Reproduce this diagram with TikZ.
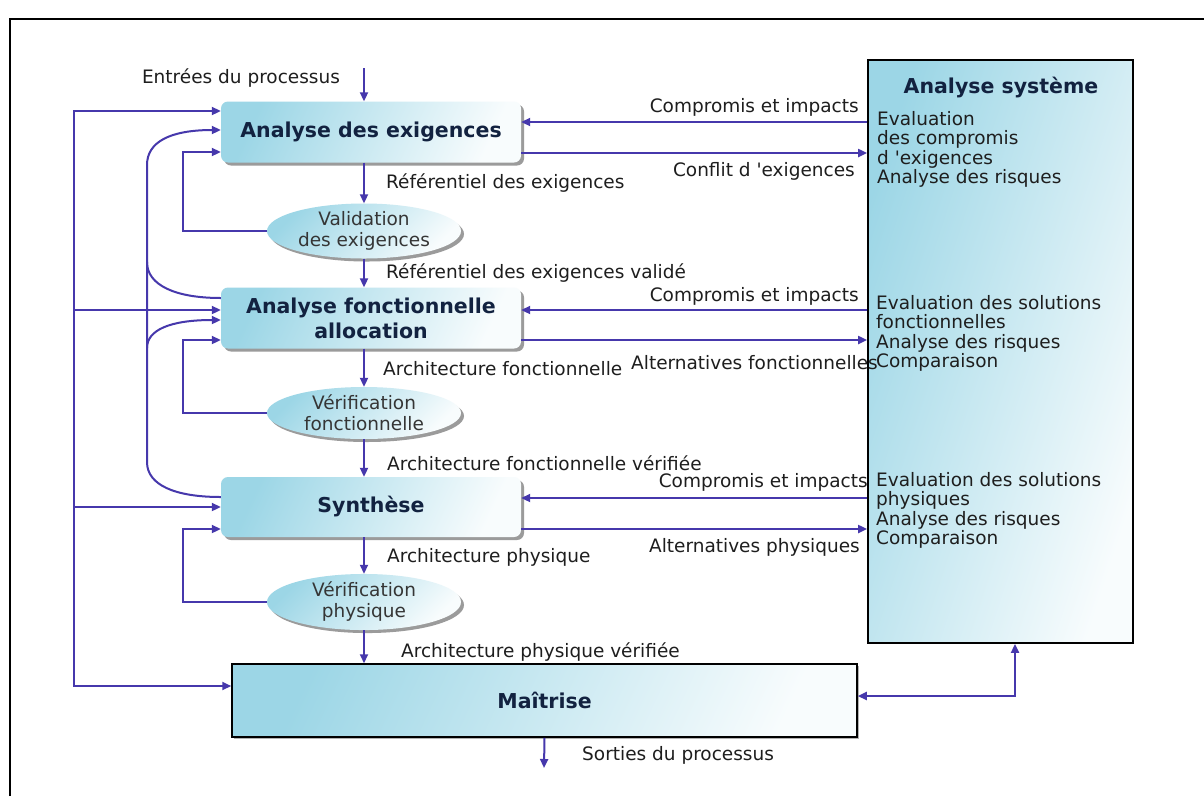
\documentclass[tikz,border=0pt]{standalone}
\usepackage{fontspec}
\setmainfont{DejaVu Sans}[Ligatures=TeXOff]
\usetikzlibrary{arrows.meta,shapes.geometric,shadows}

\definecolor{flow}{RGB}{70,56,172}
\definecolor{bxblue}{RGB}{156,214,230}
\definecolor{bxpale}{RGB}{248,252,253}
\definecolor{titlenavy}{RGB}{18,34,64}
\definecolor{txt}{RGB}{30,30,30}

\newcommand\ttlfont{\fontsize{20.5}{25}\selectfont\bfseries}
\newcommand\lblfont{\fontsize{18.5}{20}\selectfont}
\newcommand\itemfont{\fontsize{18.5}{19.5}\selectfont}

\tikzset{
  flowline/.style={draw=flow, line width=2pt},
  arr/.style={flowline, -{Triangle[length=9pt,width=8pt]}},
  darr/.style={flowline, {Triangle[length=9pt,width=8pt]}-{Triangle[length=9pt,width=8pt]}},
  softshadow/.style={drop shadow={shadow xshift=3pt, shadow yshift=-3pt, opacity=0.6, fill=black!65}},
  procbox/.style={rectangle, rounded corners=7pt, top color=bxblue, bottom color=bxpale,
    shading angle=65, softshadow, minimum width=300pt, inner sep=0pt,
    font=\ttlfont, text=titlenavy, align=center},
  checkell/.style={ellipse, minimum width=194pt, minimum height=52pt, inner sep=0pt,
    top color=bxblue, bottom color=bxpale, shading angle=45, softshadow,
    font=\fontsize{18.5}{21}\selectfont, text=txt!90, align=center},
  mastbox/.style={rectangle, draw=black, line width=1.5pt, top color=bxblue, bottom color=bxpale,
    shading angle=65, drop shadow={shadow xshift=2pt, shadow yshift=-2pt, opacity=0.5, fill=black!60},
    minimum width=625pt, minimum height=73pt, inner sep=0pt, font=\ttlfont, text=titlenavy},
  sysbox/.style={rectangle, draw=black, line width=1.8pt, top color=bxblue, bottom color=bxpale,
    shading angle=72, minimum width=265pt, minimum height=583pt, inner sep=0pt},
  lbl/.style={font=\lblfont, text=txt, inner sep=0pt},
  sysitem/.style={font=\itemfont, text=txt, inner sep=0pt, align=left, anchor=north west},
}

\begin{document}
\begin{tikzpicture}[x=1pt, y=-1pt]
  % page and outer frame
  \fill[white] (0,0) rectangle (1204,796);
  \useasboundingbox (0,0) rectangle (1204,796);
  \draw[black, line width=1.8pt] (10,796) -- (10,19) -- (1204,19);

  % process steps
  \node[procbox, minimum height=61pt] (box1) at (371,132) {Analyse des exigences};
  \node[procbox, minimum height=61pt] (box2) at (371,318) {Analyse fonctionnelle\\allocation};
  \node[procbox, minimum height=60pt] (box3) at (371,507) {Synthèse};
  \node[mastbox] (mait) at (544.5,700.5) {Maîtrise};

  % verification steps
  \node[checkell] (ell1) at (364,231) {Validation\\des exigences};
  \node[checkell] (ell2) at (364,413) {Vérification\\fonctionnelle};
  \node[checkell] (ell3) at (364,602) {Vérification\\physique};

  % system analysis panel
  \node[sysbox] (sys) at (1000.5,351.5) {};
  \node[font=\ttlfont, text=titlenavy, inner sep=0pt] (systitle) at (1001,88) {Analyse système};
  \node[sysitem] (sysa) at (877,111) {Evaluation\\des compromis\\d 'exigences\\Analyse des risques};
  \node[sysitem] (sysb) at (876,295) {Evaluation des solutions\\fonctionnelles\\Analyse des risques\\Comparaison};
  \node[sysitem] (sysc) at (876,472) {Evaluation des solutions\\physiques\\Analyse des risques\\Comparaison};

  % main vertical flow
  \coordinate (in) at (364,68);
  \coordinate (out) at (544,768);
  \draw[arr] (in) -- (in |- box1.north);
  \draw[arr] (ell1.north |- box1.south) -- (ell1.north);
  \draw[arr] (ell1.south) -- (ell1.south |- box2.north);
  \draw[arr] (ell2.north |- box2.south) -- (ell2.north);
  \draw[arr] (ell2.south) -- (ell2.south |- box3.north);
  \draw[arr] (ell3.north |- box3.south) -- (ell3.north);
  \draw[arr] (ell3.south) -- (ell3.south |- mait.north);
  \draw[arr] (mait.south) -- (out);

  \node[lbl] (tin) at (241,78) {Entrées du processus};
  \node[lbl, anchor=west] (t1) at (386,183) {Référentiel des exigences};
  \node[lbl, anchor=west] (t2) at (386,273) {Référentiel des exigences validé};
  \node[lbl, anchor=west] (t3) at (383,369) {Architecture fonctionnelle};
  \node[lbl, anchor=west] (t4) at (387,463) {Architecture fonctionnelle vérifiée};
  \node[lbl, anchor=west] (t5) at (387,557) {Architecture physique};
  \node[lbl, anchor=west] (t6) at (401,652) {Architecture physique vérifiée};
  \node[lbl, anchor=west] (tout) at (582,755) {Sorties du processus};

  % exchanges with system analysis
  \draw[arr] (sys.west |- 0,122) -- (box1.east |- 0,122);
  \draw[arr] (box1.east |- 0,153) -- (sys.west |- 0,153);
  \draw[arr] (sys.west |- 0,310) -- (box2.east |- 0,310);
  \draw[arr] (box2.east |- 0,340) -- (sys.west |- 0,340);
  \draw[arr] (sys.west |- 0,498) -- (box3.east |- 0,498);
  \draw[arr] (box3.east |- 0,529) -- (sys.west |- 0,529);
  \coordinate (ms) at (1015,696);
  \draw[darr] (sys.south -| ms) |- (mait.east |- ms);

  \node[lbl, anchor=east] (c1) at (859,107) {Compromis et impacts};
  \node[lbl, anchor=east] (k1) at (855,171) {Conflit d 'exigences};
  \node[lbl, anchor=east] (c2) at (859,296) {Compromis et impacts};
  \node[lbl, anchor=west] (a2) at (631,363) {Alternatives fonctionnelles};
  \node[lbl, anchor=east] (c3) at (868,482) {Compromis et impacts};
  \node[lbl, anchor=east] (a3) at (860,547) {Alternatives physiques};

  % outer input rail
  \coordinate (o1) at (74,111);
  \coordinate (o2) at (74,310);
  \coordinate (o3) at (74,507);
  \coordinate (o4) at (74,686);
  \draw[arr] (o2) -- (o1) -- (box1.west |- o1);
  \draw[arr] (o1) -- (o4) -- (mait.west |- o4);
  \draw[arr] (o2) -- (box2.west |- o2);
  \draw[arr] (o3) -- (box3.west |- o3);

  % verification loops
  \coordinate (l1) at (183,152);
  \coordinate (l2) at (183,340);
  \coordinate (l3) at (183,529);
  \draw[arr] (ell1.west) -| (l1) -- (box1.west |- l1);
  \draw[arr] (ell2.west) -| (l2) -- (box2.west |- l2);
  \draw[arr] (ell3.west) -| (l3) -- (box3.west |- l3);

  % feedback rail
  \coordinate (rtop) at (147,165);
  \coordinate (rbot) at (147,462);
  \coordinate (rmid) at (147,262);
  \coordinate (rfb) at (147,348);
  \draw[arr] ([yshift=10pt]box3.west) .. controls (175,497) and (147,485) .. (rbot)
    -- (rtop) .. controls (147,142) and (170,130) .. ([yshift=2pt]box1.west);
  \draw[flowline] ([yshift=20pt]box2.west) .. controls (175,298) and (147,285) .. (rmid);
  \draw[arr] (rfb) .. controls (147,330) and (170,320) .. ([yshift=-2pt]box2.west);
\end{tikzpicture}
\end{document}
